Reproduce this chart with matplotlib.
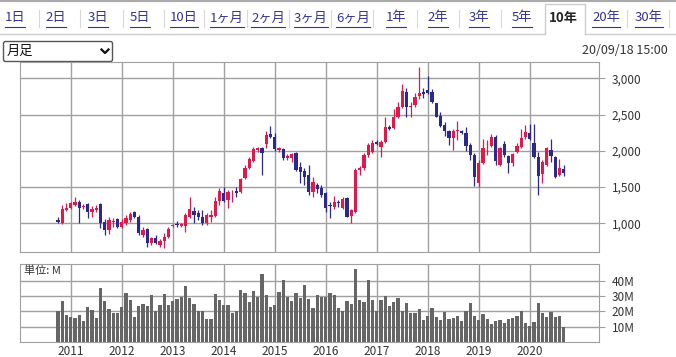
import numpy as np
import pandas as pd
import matplotlib
matplotlib.use('Agg')
import matplotlib.pyplot as plt
from matplotlib.patches import Rectangle, FancyBboxPatch

plt.rcParams['font.family'] = ['Noto Sans CJK JP', 'DejaVu Sans']

# monthly candles, Oct 2010 - Sep 2020
start_month = '2010-10'
opens = [1046, 1000, 1184, 1216, 1253, 1290, 1230, 1262, 1161, 1184,
         1267, 1023, 908, 1018, 1055, 954, 1000, 1046, 1156, 1092,
         839, 922, 724, 793, 701, 761, 816, 968, 991, 963,
         963, 1092, 1175, 1147, 1092, 1000, 1092, 1106, 1313, 1423,
         1322, 1428, 1451, 1437, 1621, 1759, 1860, 2012, 2035, 2090,
         2228, 2196, 2017, 2026, 1897, 1897, 1966, 1782, 1722, 1667,
         1437, 1529, 1492, 1414, 1253, 1221, 1299, 1207, 1345, 1106,
         1161, 1736, 1768, 1943, 1989, 2127, 2058, 2127, 2334, 2311,
         2463, 2610, 2817, 2610, 2633, 2757, 2817, 2840, 2817, 2656,
         2481, 2357, 2274, 2182, 2274, 2279, 2251, 2081, 1943, 1552,
         1828, 2049, 2067, 2196, 1805, 2095, 1929, 1828, 1989, 2058,
         2187, 2251, 2104, 1911, 1681, 1805, 2012, 1911, 1667, 1750]
highs = [1083, 1253, 1276, 1299, 1368, 1322, 1267, 1276, 1244, 1253,
         1276, 1055, 1092, 1069, 1069, 1055, 1115, 1161, 1175, 1115,
         954, 931, 816, 839, 779, 862, 945, 991, 1030, 1010,
         1138, 1359, 1230, 1184, 1184, 1138, 1184, 1368, 1483, 1506,
         1460, 1460, 1506, 1621, 1805, 1920, 2058, 2058, 2058, 2274,
         2348, 2242, 2058, 2035, 1952, 1966, 1980, 1851, 1759, 1800,
         1644, 1561, 1529, 1437, 1299, 1377, 1322, 1368, 1359, 1198,
         1759, 1791, 1966, 2104, 2150, 2150, 2150, 2472, 2350, 2573,
         2679, 2923, 2863, 2679, 2794, 3153, 2863, 3033, 2849, 2665,
         2541, 2403, 2288, 2297, 2412, 2288, 2325, 2113, 1966, 1874,
         2159, 2150, 2233, 2219, 2058, 2141, 1943, 1966, 2113, 2297,
         2357, 2371, 2371, 1989, 1874, 2049, 2159, 1929, 1883, 1805]
lows = [1000, 995, 1175, 1198, 1240, 1000, 1193, 1069, 1092, 1161,
        931, 839, 853, 954, 931, 931, 977, 1023, 1069, 839,
        807, 678, 701, 715, 669, 655, 793, 945, 950, 945,
        885, 1069, 1000, 1046, 977, 977, 1023, 1092, 1253, 1299,
        1207, 1299, 1368, 1414, 1612, 1750, 1851, 1990, 1667, 2035,
        2173, 1998, 1989, 1874, 1874, 1852, 1722, 1552, 1529, 1390,
        1368, 1414, 1368, 1161, 1069, 1193, 1230, 1198, 1083, 1000,
        1147, 1667, 1736, 1920, 1966, 2081, 1920, 2113, 2290, 2297,
        2449, 2587, 2472, 2472, 2610, 2711, 2725, 2785, 2656, 2463,
        2334, 2205, 2081, 2012, 2150, 2233, 2003, 1874, 1515, 1506,
        1819, 1943, 2058, 1805, 1791, 1920, 1699, 1791, 1966, 2035,
        2159, 2150, 1897, 1391, 1552, 1791, 1851, 1621, 1653, 1653]
closes = [1018, 1198, 1216, 1276, 1299, 1216, 1244, 1152, 1198, 1216,
          1000, 908, 1046, 1032, 945, 1023, 1069, 1129, 1083, 862,
          908, 733, 793, 724, 761, 816, 922, 977, 972, 991,
          1115, 1198, 1115, 1083, 1000, 1115, 1115, 1313, 1451, 1313,
          1437, 1437, 1423, 1607, 1768, 1888, 2026, 2035, 1966, 2219,
          2196, 2026, 2035, 1897, 1934, 1952, 1736, 1713, 1644, 1428,
          1575, 1469, 1391, 1207, 1240, 1290, 1276, 1331, 1092, 1184,
          1736, 1768, 1943, 2081, 2104, 2095, 2127, 2334, 2297, 2472,
          2610, 2831, 2610, 2619, 2748, 2794, 2780, 2794, 2679, 2472,
          2343, 2274, 2173, 2274, 2288, 2242, 2067, 1943, 1635, 1837,
          2035, 2058, 2187, 1865, 2035, 1943, 1837, 1957, 2067, 2173,
          2265, 2159, 1920, 1653, 1851, 2035, 1929, 1635, 1759, 1699]
volumes = [20, 27, 18, 16.5, 15.7, 18, 14, 23, 21, 16,
           35.4, 27, 21.7, 18.7, 19, 23, 32, 27.6, 16.5, 23.7,
           25, 23.7, 31, 20, 24.3, 31.5, 24.3, 27, 28.3, 29.6,
           36.7, 29, 25, 20, 20, 15.2, 15.2, 31.5, 27.6, 24.3,
           24.3, 19, 20, 34, 32, 26.3, 33.5, 29.6, 44.6, 31,
           23, 24.3, 32.8, 40.7, 29.6, 27, 32, 29, 37.4, 28.3,
           22.4, 31, 29.6, 29.6, 32, 31, 22.4, 20, 27, 25,
           47.8, 27.6, 26.3, 40.7, 27.6, 20, 27.6, 30.2, 23.7, 26.3,
           29, 20.4, 25.7, 19, 19, 21.7, 14.6, 17.2, 22.4, 16.5,
           14.6, 19.8, 15.2, 15.9, 17.2, 13.9, 20.4, 25.7, 17.2, 14.6,
           18.5, 15.2, 12, 13.9, 14.6, 12.6, 15.2, 15.9, 17.2, 20.4,
           12.6, 10.7, 13.3, 25.7, 19, 16.5, 19.8, 16.5, 17.2, 10]

price_ticks = [1000, 1500, 2000, 2500, 3000]
volume_ticks = [10, 20, 30, 40]
tabs = ['1日', '2日', '3日', '5日', '10日', '1ヶ月', '2ヶ月', '3ヶ月', '6ヶ月',
        '1年', '2年', '3年', '5年', '10年', '20年', '30年']
selected_tab = '10年'
chart_type = '月足'
timestamp = '20/09/18 15:00'

RED = '#e3174a'
BLUE = '#2b2a8c'
GRID = '#a0a0a0'
TXT = '#333333'

W, H = 676, 357
fig = plt.figure(figsize=(W / 100, H / 100), dpi=100)


def px_axes(x0, y0, x1, y1):
    return fig.add_axes([x0 / W, 1 - y1 / H, (x1 - x0) / W, (y1 - y0) / H])


# page header: tab bar, dropdown, timestamp
bg = px_axes(0, 0, W, H)
bg.set_xlim(0, W)
bg.set_ylim(H, 0)
bg.axis('off')

tab_x = [15, 56, 98, 140, 184, 227, 268, 311, 353, 396, 438, 479, 522, 563, 606, 649]
sep_x = [39, 80, 123, 164, 204, 247, 289, 331, 373, 417, 459, 501, 627, 669]
bg.plot([0, W], [1, 1], color='#aaaaaa', lw=1.5)
bg.plot([0, 545], [33.5, 33.5], color='#cccccc', lw=1)
bg.plot([585, W], [33.5, 33.5], color='#cccccc', lw=1)
bg.plot([545, 545, 585, 585], [33.5, 4, 4, 33.5], color='#cccccc', lw=1)
for sx in sep_x:
    bg.plot([sx, sx], [10, 27], color='#d8d8d8', lw=0.8)

tab_texts = []
for label, tx in zip(tabs, tab_x):
    if label == selected_tab:
        bg.text(tx, 18, label, ha='center', va='center', fontsize=9.5,
                fontweight='bold', color='#222222')
    else:
        t = bg.text(tx, 18, label, ha='center', va='center', fontsize=9.5,
                    color='#333399')
        tab_texts.append(t)

fig.canvas.draw()
inv = bg.transData.inverted()
for t in tab_texts:
    bb = t.get_window_extent()
    (x0, _), (x1, _) = inv.transform([(bb.x0, 0), (bb.x1, 0)])
    bg.plot([x0, x1], [27, 27], color='#333399', lw=0.8)

box = FancyBboxPatch((3.5, 41.5), 109, 20, boxstyle='round,pad=0,rounding_size=2',
                     fc='white', ec='#555555', lw=1)
bg.add_patch(box)
bg.text(7, 51.5, chart_type, ha='left', va='center', fontsize=9.5, color='#111111')
bg.plot([101.5, 105, 108.5], [49.5, 53, 49.5], color='#111111', lw=1.6)
bg.text(668, 50, timestamp, ha='right', va='center', fontsize=9, color=TXT)

# price chart
months = pd.period_range(start_month, periods=len(closes), freq='M')
x = np.arange(len(months))
jan = x[months.month == 1]
o = np.array(opens)
c = np.array(closes)
colors = np.where(c >= o, RED, BLUE)

ax = px_axes(20, 62, 599, 252)
ax.vlines(x, lows, highs, colors=colors, lw=0.9, zorder=2)
ax.bar(x, np.maximum(np.abs(c - o), 10), bottom=np.minimum(o, c), width=0.72,
       color=colors, lw=0, zorder=3)
ax.set_xlim(-8.94, 127.3)
ax.set_ylim(604, 3225)
ax.set_xticks(jan)
ax.set_yticks(price_ticks)
ax.set_yticklabels([f'{v:,}' for v in price_ticks])
ax.grid(True, color=GRID, lw=1)
ax.set_axisbelow(True)
ax.yaxis.tick_right()
ax.tick_params(axis='y', length=4, color=GRID, pad=5, labelsize=8.5, labelcolor=TXT)
ax.tick_params(axis='x', length=0, labelbottom=False)
for s in ax.spines.values():
    s.set_color(GRID)

# volume chart
vax = px_axes(20, 264, 599, 342)
vax.bar(x, volumes, width=0.72, color='#666666', lw=0, zorder=3)
vax.set_xlim(-8.94, 127.3)
vax.set_ylim(0, 51.1)
vax.set_xticks(jan)
vax.set_xticklabels([str(m.year) for m in months[months.month == 1]])
vax.set_yticks(volume_ticks)
vax.set_yticklabels([f'{v}M' for v in volume_ticks])
vax.grid(True, color=GRID, lw=1)
vax.set_axisbelow(True)
vax.yaxis.tick_right()
vax.tick_params(axis='y', length=4, color=GRID, pad=5, labelsize=8.5, labelcolor=TXT)
vax.tick_params(axis='x', length=0, pad=2, labelsize=8.5, labelcolor=TXT)
for s in vax.spines.values():
    s.set_color(GRID)
vax.text(4 / 579, 1 - 7 / 78, '単位: M', transform=vax.transAxes, ha='left',
         va='center', fontsize=8, color=TXT, zorder=5)

fig.savefig('out.png', dpi=100)
